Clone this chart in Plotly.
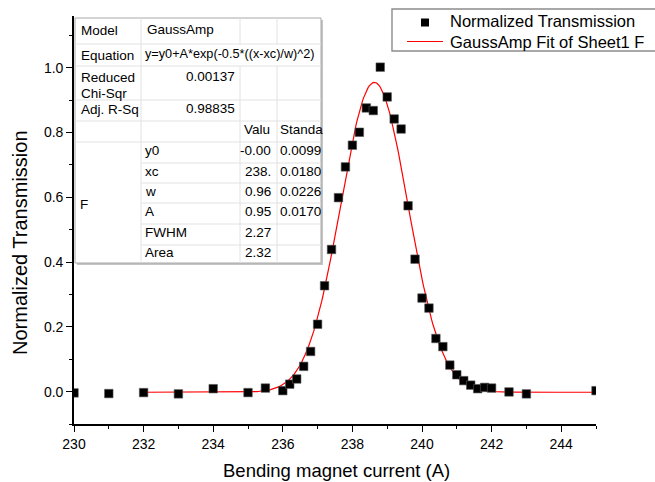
import numpy as np
import plotly.graph_objects as go

# Measured transmission vs. bending magnet current
current = [230, 231, 232, 233, 234, 235, 235.5, 236.0, 236.2, 236.4, 236.6, 236.8,
           237.0, 237.2, 237.4, 237.6, 237.8, 238.0, 238.2, 238.4, 238.6, 238.8,
           239.0, 239.2, 239.4, 239.6, 239.8, 240.0, 240.2, 240.4, 240.6, 240.8,
           241.0, 241.2, 241.4, 241.6, 241.8, 242.0, 242.5, 243.0, 245.0]
transmission = [-0.004, -0.006, -0.003, -0.007, 0.009, -0.003, 0.011, 0.003, 0.023, 0.039,
                 0.078, 0.124, 0.208, 0.327, 0.439, 0.599, 0.694, 0.761, 0.801, 0.876,
                 0.868, 1.002, 0.910, 0.842, 0.811, 0.574, 0.409, 0.289, 0.258, 0.164,
                 0.139, 0.082, 0.052, 0.034, 0.020, 0.009, 0.013, 0.011, -0.001, -0.007,
                 0.003]

# GaussAmp fit parameters
y0, xc, w, A = -0.002, 238.63, 0.966, 0.957
fit_start, fit_end = 232.0, 245.0

# Fit report table content
report_rows = [("Model", "GaussAmp"),
               ("Equation", "y=y0+A*exp(-0.5*((x-xc)/w)^2)"),
               ("Reduced\nChi-Sqr", "0.00137"),
               ("Adj. R-Sq", "0.98835")]
param_names = ["y0", "xc", "w", "A", "FWHM", "Area"]
param_values = ["-0.00", "238.", "0.96", "0.95", "2.27", "2.32"]
param_errors = ["0.0099", "0.0180", "0.0226", "0.0170", "", ""]

x_ticks = [230, 232, 234, 236, 238, 240, 242, 244]
y_ticks = [0.0, 0.2, 0.4, 0.6, 0.8, 1.0]

FONT = "Liberation Sans, Arial, sans-serif"
W, H = 655, 482
L, R, T, B = 74, 596, 16, 424


def px(x):
    return (x - L) / (R - L)


def py(y):
    return (B - y) / (B - T)


xf = np.linspace(fit_start, fit_end, 400)
yf = y0 + A * np.exp(-0.5 * ((xf - xc) / w) ** 2)

fig = go.Figure()
fig.add_trace(go.Scatter(x=xf, y=yf, mode="lines", line=dict(color="#ff0000", width=1.2),
                         showlegend=False, hoverinfo="skip"))
fig.add_trace(go.Scatter(x=current, y=transmission, mode="markers",
                         marker=dict(symbol="square", size=8.5, color="black",
                                     line=dict(width=0.6, color="#555555")),
                         showlegend=False))

axis_common = dict(showline=True, linecolor="black", linewidth=1.6, showgrid=False,
                   zeroline=False, ticks="outside", tickcolor="black", tickwidth=1.4,
                   ticklen=6, tickfont=dict(family=FONT, size=14, color="black"))
fig.update_xaxes(range=[230, 245], tickvals=x_ticks, ticktext=[str(v) for v in x_ticks],
                 minor=dict(dtick=1, tick0=231, ticks="outside", ticklen=3,
                            tickcolor="black", tickwidth=1.2),
                 **axis_common)
fig.update_yaxes(range=[-0.1, 1.16], tickvals=y_ticks, ticktext=[f"{v:.1f}" for v in y_ticks],
                 minor=dict(dtick=0.1, tick0=0.1, ticks="outside", ticklen=3,
                            tickcolor="black", tickwidth=1.2),
                 **axis_common)

shapes = []
annotations = []


def hline(x0, x1, y, color="#e2e2e2", width=1):
    shapes.append(dict(type="line", xref="paper", yref="paper", x0=px(x0), x1=px(x1),
                       y0=py(y), y1=py(y), line=dict(color=color, width=width)))


def vline(x, y0_, y1_, color="#e2e2e2", width=1):
    shapes.append(dict(type="line", xref="paper", yref="paper", x0=px(x), x1=px(x),
                       y0=py(y0_), y1=py(y1_), line=dict(color=color, width=width)))


def text(s, x, y, anchor="left", size=13.5, color="black"):
    annotations.append(dict(text=s, xref="paper", yref="paper", x=px(x), y=py(y),
                            xanchor=anchor, yanchor="middle", showarrow=False,
                            font=dict(family=FONT, size=size, color=color)))


# Fit report table
tl, tr, tt, tb = 75, 321, 18, 263
c1, c2, c3 = 141, 240, 277
shapes.append(dict(type="rect", xref="paper", yref="paper", x0=px(tl + 2), x1=px(tr + 2),
                   y0=py(tt + 2), y1=py(tb + 2), fillcolor="#c4c4c4", line=dict(width=0)))
shapes.append(dict(type="rect", xref="paper", yref="paper", x0=px(tl), x1=px(tr),
                   y0=py(tt), y1=py(tb), fillcolor="white", line=dict(color="#a8a8a8", width=1)))
for yy in [44, 66, 100, 121, 142]:
    hline(tl, tr, yy)
for yy in [163, 183, 203, 224, 245]:
    hline(c1, tr, yy)
vline(c1, tt, tb)
for xx in [c2, c3]:
    vline(xx, tt, 44)
    vline(xx, 66, tb)

row_y = [31, 55, 77, 110]
for (label, value), yy in zip(report_rows, row_y):
    if "\n" in label:
        first, second = label.split("\n")
        text(first, 79, yy)
        text(second, 79, yy + 16)
    else:
        text(label, 79, yy)
    if value.startswith("y="):
        text(value, 143, yy - 1, size=12.7)
    elif value.isalpha():
        text(value, 145, yy - 1)
    else:
        text(value, 237, yy - 1, anchor="right")

text("Valu", 242, 129)
text("Standa", 278, 129)
text("F", 78, 204)
param_y = [150, 171, 191.5, 211.5, 232, 252.5]
for name, val, err, yy in zip(param_names, param_values, param_errors, param_y):
    text(name, 143, yy)
    text(val, 273, yy, anchor="right")
    if err:
        text(err, 278, yy)

# Legend box
shapes.append(dict(type="rect", xref="paper", yref="paper", x0=px(392), x1=px(662),
                   y0=py(9), y1=py(51), fillcolor="white", line=dict(color="#8c8c8c", width=1.4)))
shapes.append(dict(type="rect", xref="paper", yref="paper", x0=px(421), x1=px(429),
                   y0=py(18.5), y1=py(26.5), fillcolor="black", line=dict(width=0)))
shapes.append(dict(type="line", xref="paper", yref="paper", x0=px(407), x1=px(443),
                   y0=py(41.5), y1=py(41.5), line=dict(color="#ff0000", width=1.2)))
text("Normalized Transmission", 448, 21.5, size=16.5)
text("GaussAmp Fit of Sheet1 F", 448, 41.5, size=16.5)

# Axis titles
annotations.append(dict(text="Bending magnet current (A)", xref="paper", yref="paper",
                        x=px(336), y=py(470), xanchor="center", yanchor="middle",
                        showarrow=False, font=dict(family=FONT, size=18.5, color="black")))
annotations.append(dict(text="Normalized Transmission", xref="paper", yref="paper",
                        x=px(20), y=py(243), xanchor="center", yanchor="middle",
                        textangle=-90, showarrow=False,
                        font=dict(family=FONT, size=20, color="black")))

fig.update_layout(width=W, height=H, margin=dict(l=L, r=W - R, t=T, b=H - B),
                  paper_bgcolor="white", plot_bgcolor="white",
                  shapes=shapes, annotations=annotations, showlegend=False)

fig.write_html("out.html")
